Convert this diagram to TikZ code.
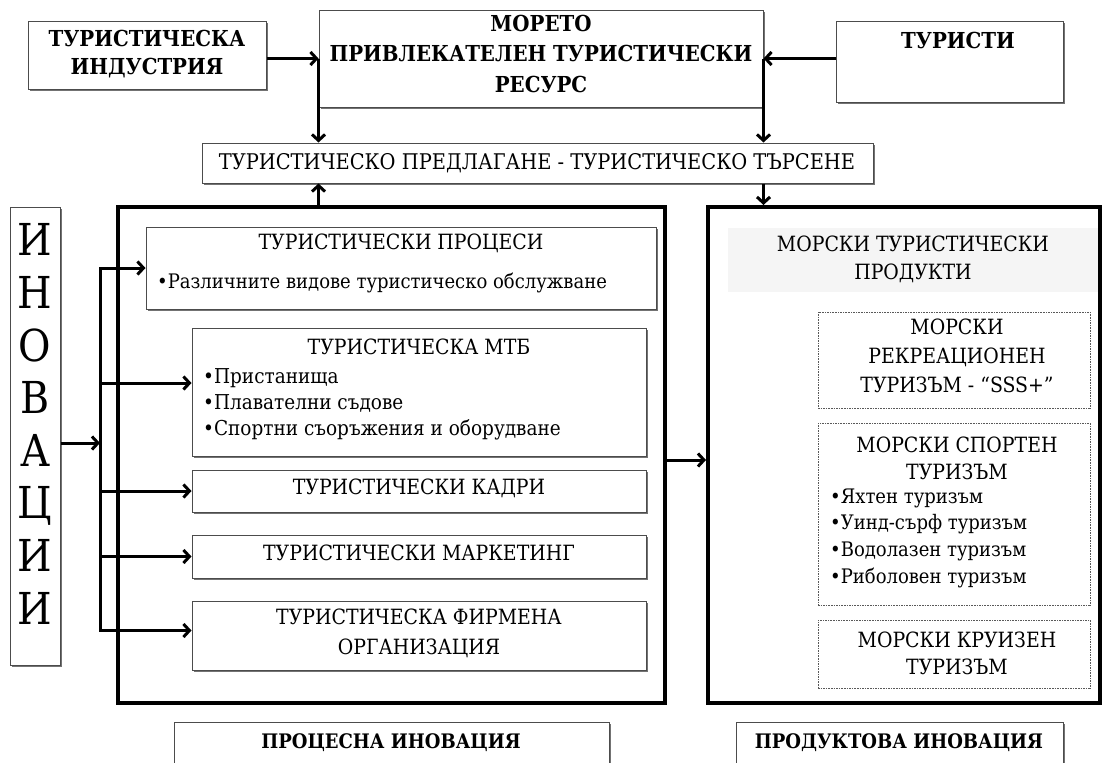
\documentclass[tikz,border=0pt]{standalone}
\usepackage{fontspec}
\setmainfont{DejaVu Serif Condensed}
\usetikzlibrary{arrows.meta,shadows}
\begin{document}
\begin{tikzpicture}[x=1pt,y=-1pt,
  box/.style={draw=black!70, line width=1pt, fill=white, rectangle, inner sep=0pt,
    drop shadow={shadow xshift=1.6pt, shadow yshift=-1.6pt, fill=black!55, opacity=1}},
  dbox/.style={draw=black!65, line width=0.9pt, dash pattern=on 1.6pt off 1pt, fill=white, rectangle, inner sep=0pt},
  big/.style={draw=black, line width=4pt, rectangle, inner sep=0pt},
  txt/.style={font=\fontsize{21}{28}\selectfont, inner sep=0pt, align=center},
  ltxt/.style={font=\fontsize{20}{26}\selectfont, inner sep=0pt, align=left, anchor=west},
  btxt/.style={font=\fontsize{22}{28}\selectfont\bfseries, inner sep=0pt, align=center},
  conn/.style={line width=3pt, line cap=rect},
  arr/.style={line width=3pt, -{Straight Barb[length=6pt,width=13pt]}},
]
\useasboundingbox (0,0) rectangle (1104,763);
\clip (0,0) rectangle (1104,763);
\fill[white] (0,0) rectangle (1104,763);

% big frames
\node[big, minimum width=547pt, minimum height=496pt] (L) at (391.5,455) {};
\node[big, minimum width=392pt, minimum height=496pt] (R) at (904,455) {};

% top row
\node[box, minimum width=238pt, minimum height=68pt] (ind) at (147,55) {};
\node[box, minimum width=444pt, minimum height=97pt] (sea) at (541,58.5) {};
\node[box, minimum width=227pt, minimum height=81pt] (tur) at (949.5,61.5) {};
\node[box, minimum width=671pt, minimum height=40pt] (dem) at (537.5,163) {};

% innovations
\node[box, minimum width=50pt, minimum height=458pt] (inn) at (35,436) {};

% left inner boxes
\node[box, minimum width=510pt, minimum height=82pt] (proc) at (401,268) {};
\node[box, minimum width=454pt, minimum height=128pt] (mtb) at (419,392) {};
\node[box, minimum width=454pt, minimum height=42pt] (kad) at (419,491) {};
\node[box, minimum width=454pt, minimum height=43pt] (mar) at (419,556.5) {};
\node[box, minimum width=454pt, minimum height=69pt] (firm) at (419,635.5) {};

% right inner boxes
\node[fill=black!4, minimum width=370pt, minimum height=64pt, inner sep=0pt] (prod) at (913,260) {};
\node[dbox, minimum width=272pt, minimum height=96pt] (d1) at (954,360) {};
\node[dbox, minimum width=272pt, minimum height=182pt] (d2) at (954,514) {};
\node[dbox, minimum width=272pt, minimum height=68pt] (d3) at (954,654) {};

% bottom labels
\node[box, minimum width=435pt, minimum height=68pt] (procinn) at (391.5,756) {};
\node[box, minimum width=327pt, minimum height=68pt] (prodinn) at (899.5,756) {};

% texts
\node[btxt] (indt) at (147,54) {ТУРИСТИЧЕСКА\\ИНДУСТРИЯ};
\node[btxt, font=\fontsize{22}{30.5}\selectfont\bfseries] (seat) at (541,53.5) {МОРЕТО\\ПРИВЛЕКАТЕЛЕН ТУРИСТИЧЕСКИ\\РЕСУРС};
\node[btxt] (turt) at (958,40) {ТУРИСТИ};
\node[txt, font=\fontsize{21.6}{28}\selectfont] (demt) at (537,163) {ТУРИСТИЧЕСКО ПРЕДЛАГАНЕ - ТУРИСТИЧЕСКО ТЪРСЕНЕ};
\node[txt] (proct) at (401,243) {ТУРИСТИЧЕСКИ ПРОЦЕСИ};
\node[ltxt] (procb) at (157,283) {•Различните видове туристическо обслужване};
\node[txt] (mtbt) at (419,347) {ТУРИСТИЧЕСКА МТБ};
\node[ltxt, font=\fontsize{20.5}{26}\selectfont] (mtbb) at (203,404) {•Пристанища\\•Плавателни съдове\\•Спортни съоръжения и оборудване};
\node[txt] (kadt) at (419,488) {ТУРИСТИЧЕСКИ КАДРИ};
\node[txt] (mart) at (419,553) {ТУРИСТИЧЕСКИ МАРКЕТИНГ};
\node[txt, font=\fontsize{21}{30}\selectfont] (firmt) at (419,633) {ТУРИСТИЧЕСКА ФИРМЕНА\\ОРГАНИЗАЦИЯ};
\node[txt] (prodt) at (913,259) {МОРСКИ ТУРИСТИЧЕСКИ\\ПРОДУКТИ};
\node[txt, font=\fontsize{21}{29}\selectfont] (d1t) at (957,356) {МОРСКИ\\РЕКРЕАЦИОНЕН\\ТУРИЗЪМ - “SSS+”};
\node[txt, font=\fontsize{21}{27}\selectfont] (d2t) at (957,458.5) {МОРСКИ СПОРТЕН\\ТУРИЗЪМ};
\node[ltxt, font=\fontsize{20}{26.7}\selectfont] (d2b) at (830,538) {•Яхтен туризъм\\•Уинд-сърф туризъм\\•Водолазен туризъм\\•Риболовен туризъм};
\node[txt, font=\fontsize{21}{27}\selectfont] (d3t) at (957,653.5) {МОРСКИ КРУИЗЕН\\ТУРИЗЪМ};
\node[btxt, font=\fontsize{20}{28}\selectfont\bfseries] (procinnt) at (391,743) {ПРОЦЕСНА ИНОВАЦИЯ};
\node[btxt, font=\fontsize{20}{28}\selectfont\bfseries] (prodinnt) at (899,743) {ПРОДУКТОВА ИНОВАЦИЯ};
\node[txt, font=\fontsize{44}{52.6}\selectfont] (innt) at (35,424) {И\\Н\\О\\В\\А\\Ц\\И\\И};

% connectors
\coordinate (bus) at (100,0);
\coordinate (innout) at ([yshift=-7pt]inn.east);
\coordinate (mtbin) at ([yshift=9pt]mtb.west);
\coordinate (firmin) at ([yshift=5pt]firm.west);
\coordinate (Lout) at ([yshift=-5pt]L.east);

\draw[arr] (ind.east |- sea.west) -- (sea.west);
\draw[arr] (tur.west |- sea.east) -- (sea.east);
\draw[arr] (sea.west) -- (sea.west |- dem.north);
\draw[arr] (sea.east) -- (sea.east |- dem.north);
\draw[arr] (sea.west |- L.north) -- (sea.west |- dem.south);
\draw[arr] (sea.east |- dem.south) -- (sea.east |- R.north);
\draw[arr] (Lout) -- (Lout -| R.west);

\draw[arr] (innout) -- (bus |- innout);
\draw[conn] (bus |- proc.west) -- (bus |- firmin);
\draw[arr] (bus |- proc.west) -- (proc.west);
\draw[arr] (bus |- mtbin) -- (mtbin);
\draw[arr] (bus |- kad.west) -- (kad.west);
\draw[arr] (bus |- mar.west) -- (mar.west);
\draw[arr] (bus |- firmin) -- (firmin);
\end{tikzpicture}
\end{document}
